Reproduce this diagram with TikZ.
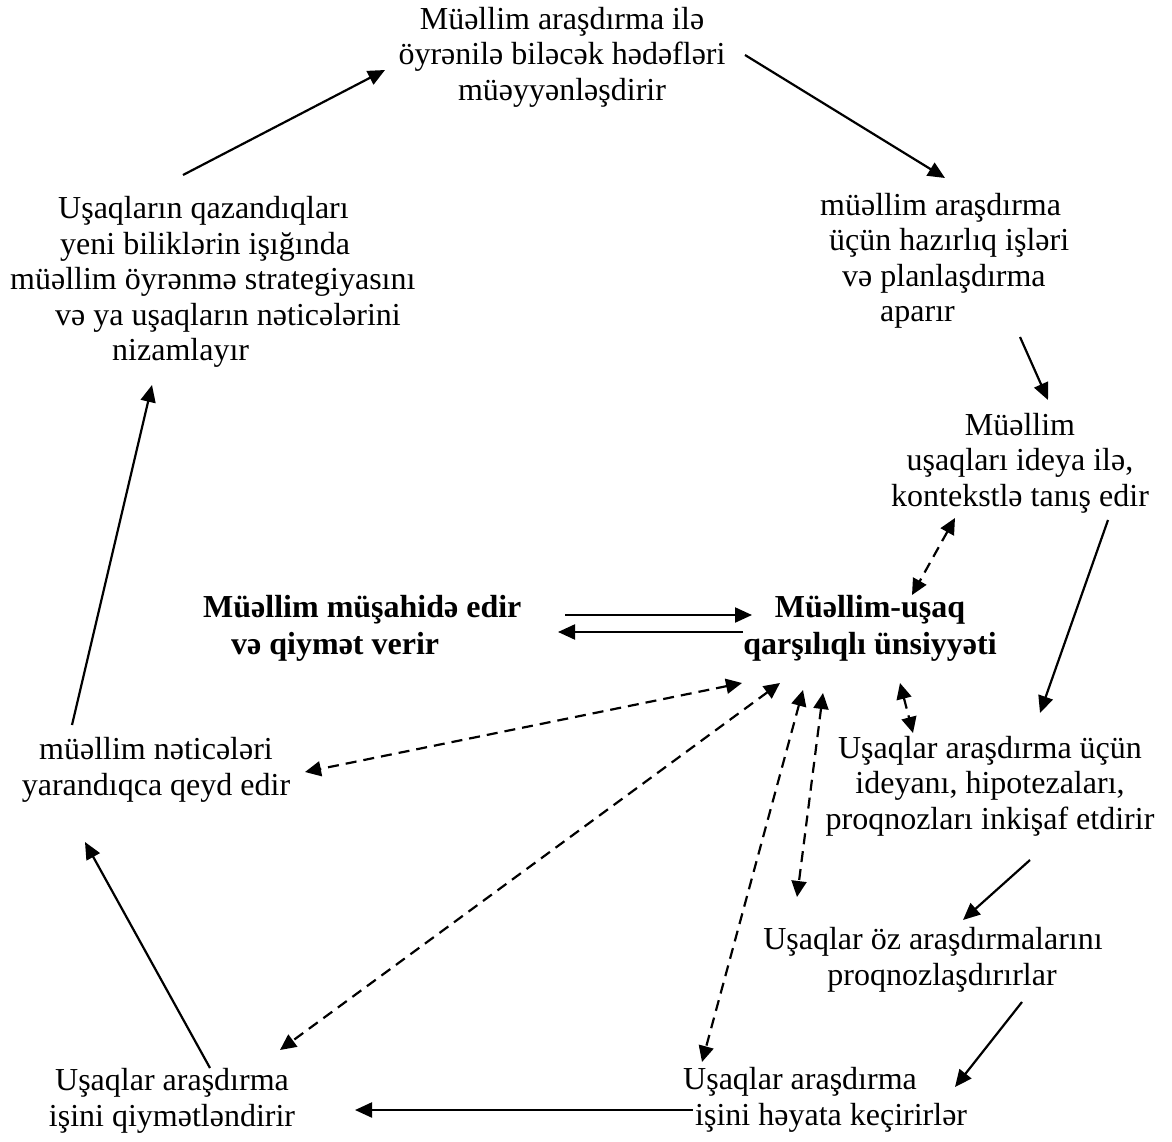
\documentclass[tikz,border=0pt]{standalone}
\usepackage{fontspec}
\setmainfont{Liberation Serif}
\usetikzlibrary{arrows.meta}
\begin{document}
\begin{tikzpicture}[x=1pt,y=-1pt,
  lbl/.style={inner sep=0pt, align=center, font=\fontsize{32}{35.5}\selectfont},
  lblL/.style={lbl, align=left},
  bold/.style={inner sep=0pt, font=\fontsize{32}{37}\selectfont\bfseries},
  arr/.style={line width=2.2pt, -{Triangle[length=17pt,width=15pt]}},
  darr/.style={line width=2.2pt, dash pattern=on 11pt off 7pt,
    {Triangle[length=16pt,width=15pt]}-{Triangle[length=16pt,width=15pt]}}]
\fill[white] (0,0) rectangle (1172,1142);
\useasboundingbox (0,0) rectangle (1172,1142);

\node[lbl] (T1) at (562,57) {Müəllim araşdırma ilə\\öyrənilə biləcək hədəfləri\\müəyyənləşdirir};
\node[lblL, anchor=west] (R1) at (820,261) {müəllim araşdırma\\\hspace*{9pt}üçün hazırlıq işləri\\\hspace*{22pt}və planlaşdırma\\\hspace*{60pt}aparır};
\node[lbl] (R2) at (1020,463) {Müəllim\\uşaqları ideya ilə,\\kontekstlə tanış edir};
\node[bold, align=left, anchor=west] (C1) at (203,628) {Müəllim müşahidə edir\\\hspace*{28pt}və qiymət verir};
\node[bold, align=center] (C2) at (870,628) {Müəllim-uşaq\\qarşılıqlı ünsiyyəti};
\node[lbl] (R3) at (990,786) {Uşaqlar araşdırma üçün\\ideyanı, hipotezaları,\\proqnozları inkişaf etdirir};
\node[lbl] (R4) at (933,960) {Uşaqlar öz araşdırmalarını\\\hspace*{18pt}proqnozlaşdırırlar};
\node[lblL, anchor=west] (BR) at (683,1100) {Uşaqlar araşdırma\\\hspace*{12pt}işini həyata keçirirlər};
\node[lbl] (BL) at (172,1101) {Uşaqlar araşdırma\\işini qiymətləndirir};
\node[lbl] (L1) at (156,770) {müəllim nəticələri\\yarandıqca qeyd edir};
\node[lblL, anchor=west] (TL) at (10,282) {\hspace*{48pt}Uşaqların qazandıqları\\\hspace*{50pt}yeni biliklərin işığında\\müəllim öyrənmə strategiyasını\\\hspace*{45pt}və ya uşaqların nəticələrini\\\hspace*{102pt}nizamlayır};

% solid cycle
\draw[arr] ([shift={(173,-107)}]TL.west) -- ([shift={(-177,13)}]T1.center);
\draw[arr] ([shift={(183,-2)}]T1.center) -- ([shift={(125,-83)}]R1.west);
\draw[arr] ([shift={(200,76)}]R1.west) -- ([shift={(28,-63)}]R2.center);
\draw[arr] ([shift={(88,57)}]R2.center) -- ([shift={(50,-73)}]R3.center);
\draw[arr] ([shift={(40,74)}]R3.center) -- ([shift={(30,-40)}]R4.center);
\draw[arr] ([shift={(89,42)}]R4.center) -- ([shift={(272,-13)}]BR.west);
\draw[arr] ([shift={(10,10)}]BR.west) -- ([shift={(183,9)}]BL.center);
\draw[arr] ([shift={(38,-33)}]BL.center) -- ([shift={(-71,72)}]L1.center);
\draw[arr] ([shift={(-84,-45)}]L1.center) -- ([shift={(142,103)}]TL.west);
% centre pair
\draw[arr] ([shift={(362,-13)}]C1.west) -- ([shift={(-118,-13)}]C2.center);
\draw[arr] ([shift={(-127,4)}]C2.center) -- ([shift={(355,4)}]C1.west);
% dashed
\draw[darr] ([shift={(-65,55)}]R2.center) -- ([shift={(42,-33)}]C2.center);
\draw[darr] ([shift={(30,55)}]C2.center) -- ([shift={(-77,-53)}]R3.center);
\draw[darr] ([shift={(-128,55)}]C2.center) -- ([shift={(149,2)}]L1.center);
\draw[darr] ([shift={(-90,55)}]C2.center) -- ([shift={(108,-51)}]BL.center);
\draw[darr] ([shift={(-67,62)}]C2.center) -- ([shift={(19,-38)}]BR.west);
\draw[darr] ([shift={(-47,65)}]C2.center) -- ([shift={(-136,-63)}]R4.center);
\end{tikzpicture}
\end{document}
